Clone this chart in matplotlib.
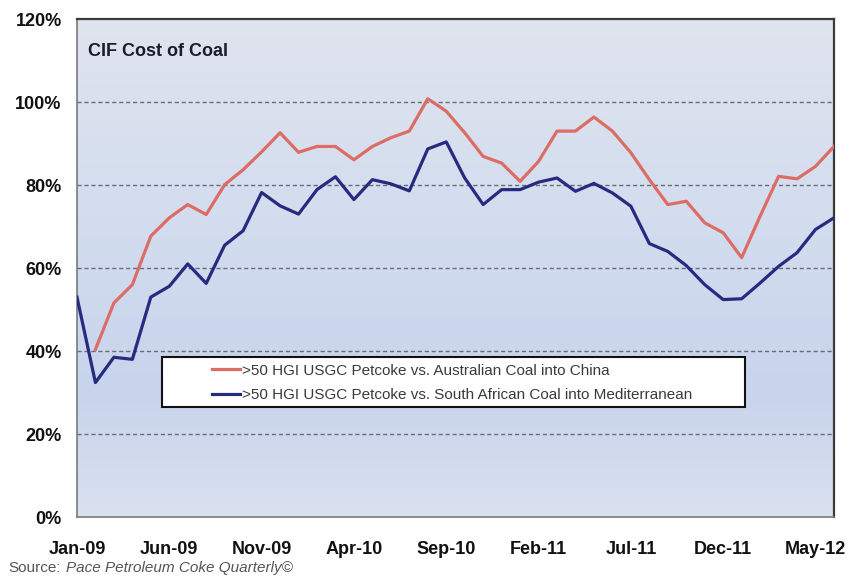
import numpy as np
import pandas as pd
import matplotlib
matplotlib.use('Agg')
import matplotlib.pyplot as plt
from matplotlib.colors import LinearSegmentedColormap
from matplotlib.patches import Rectangle

plt.rcParams['font.family'] = ['Liberation Sans', 'DejaVu Sans']

# Monthly categories, Jan-09 .. Jun-12
months = pd.date_range('2009-01-01', periods=42, freq='MS')
month_labels = [m.strftime('%b-%y') for m in months]

# CIF cost of petcoke relative to coal (%)
australia_china = [np.nan, 40.4, 51.6, 56.0, 67.7, 72.1, 75.3, 72.9, 80.1, 83.7,
                   88.0, 92.6, 87.9, 89.3, 89.3, 86.1, 89.3, 91.4, 93.0, 100.8,
                   97.8, 92.6, 86.9, 85.3, 80.9, 85.7, 93.0, 93.0, 96.4, 93.0,
                   87.8, 81.3, 75.3, 76.1, 70.9, 68.5, 62.5, 72.5, 82.1, 81.5,
                   84.5, 89.3]
safrica_med = [53.0, 32.4, 38.5, 38.0, 53.0, 55.6, 61.0, 56.3, 65.5, 69.0,
               78.2, 75.0, 73.0, 78.9, 82.0, 76.5, 81.3, 80.3, 78.6, 88.7,
               90.4, 81.7, 75.3, 78.9, 78.9, 80.7, 81.7, 78.5, 80.4, 78.1,
               74.9, 65.9, 64.0, 60.6, 56.0, 52.4, 52.6, 56.4, 60.4, 63.7,
               69.3, 72.1]

series_names = ['>50 HGI USGC Petcoke vs. Australian Coal into China',
                '>50 HGI USGC Petcoke vs. South African Coal into Mediterranean']

fig = plt.figure(figsize=(8.58, 5.78), dpi=100)
ax = fig.add_axes([0.0897, 0.1055, 0.8823, 0.8615])

x = np.arange(len(months))

# soft blue gradient behind the plot
grad = LinearSegmentedColormap.from_list(
    'bg', [(0.0, '#d9e1ef'), (0.25, '#c8d4ec'), (0.6, '#d3ddef'), (1.0, '#dfe4ee')])
ax.imshow(np.linspace(0, 1, 256).reshape(-1, 1), cmap=grad, aspect='auto',
          extent=[0, len(months) - 1, 0, 120], origin='lower', zorder=0)

for yv in [20, 40, 60, 80, 100]:
    ax.axhline(yv, color='#6a6a78', lw=1.0, ls=(0, (3, 2)), zorder=1)

l1, = ax.plot(x, australia_china, color='#dc6c65', lw=2.3, zorder=3)
l2, = ax.plot(x, safrica_med, color='#262b7f', lw=2.3, zorder=3)

ax.set_xlim(0, len(months) - 1)
ax.set_ylim(0, 120)
ax.set_xticks(x[::5])
ax.set_xticklabels(month_labels[::5])
ax.set_yticks(np.arange(0, 121, 20))
ax.set_yticklabels([f'{v}%' for v in range(0, 121, 20)])
ax.tick_params(axis='both', length=0, labelsize=13, colors='#111111')
ax.tick_params(axis='x', pad=17)
ax.tick_params(axis='y', pad=11)
for lab in ax.get_xticklabels() + ax.get_yticklabels():
    lab.set_fontweight('bold')

for side in ['top', 'right']:
    ax.spines[side].set_color('#3a3a3a')
    ax.spines[side].set_linewidth(1.6)
for side in ['left', 'bottom']:
    ax.spines[side].set_color('#7a7a7a')
    ax.spines[side].set_linewidth(1.2)

ax.text(0.0145, 0.935, 'CIF Cost of Coal', transform=ax.transAxes,
        fontsize=13, fontweight='bold', color='#1b1b2a', va='center', ha='left')

# legend box
ax.add_patch(Rectangle((0.112, 0.221), 0.770, 0.100, transform=ax.transAxes,
                       facecolor='white', edgecolor='#111111', lw=1.5, zorder=4))
leg = ax.legend([l1, l2], series_names, loc='upper left',
                bbox_to_anchor=(0.178, 0.308), borderaxespad=0, borderpad=0,
                frameon=False, fontsize=11, handlelength=1.85, handletextpad=0.1,
                labelspacing=0.7)
leg.set_zorder(5)
for t in leg.get_texts():
    t.set_color('#3a3a3a')

src = fig.text(8 / 858, 1 - 568 / 578, 'Source:', fontsize=11, color='#555555',
               va='center', ha='left')
ax.annotate('Pace Petroleum Coke Quarterly©', xy=(1, 0.5), xycoords=src,
            xytext=(4, 0), textcoords='offset points', fontsize=11,
            color='#555555', style='italic', va='center', ha='left',
            annotation_clip=False)

fig.savefig('out.png', dpi=100)
